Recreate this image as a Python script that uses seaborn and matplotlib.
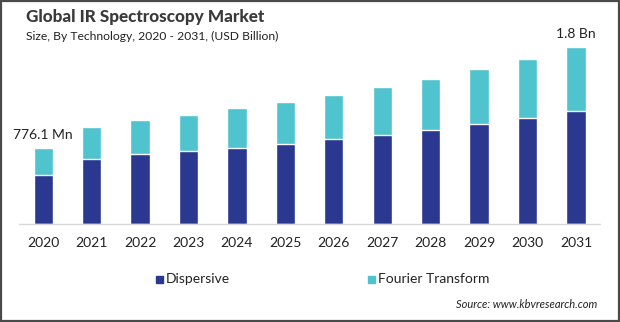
import matplotlib
matplotlib.use("Agg")
import matplotlib.pyplot as plt
from matplotlib.patches import Rectangle
import seaborn as sns
import pandas as pd

years = ["2020", "2021", "2022", "2023", "2024", "2025",
         "2026", "2027", "2028", "2029", "2030", "2031"]
dispersive = [0.500, 0.661, 0.712, 0.742, 0.773, 0.814,
              0.864, 0.905, 0.956, 1.017, 1.078, 1.149]
fourier = [0.2761, 0.325, 0.346, 0.366, 0.407, 0.427,
           0.448, 0.488, 0.518, 0.559, 0.600, 0.651]
end_labels = {"2020": "776.1 Mn", "2031": "1.8 Bn"}

NAVY = "#2B388F"
TEAL = "#4FC3CE"

df = pd.DataFrame({"year": years, "Dispersive": dispersive,
                   "Fourier Transform": fourier})
df["total"] = df["Dispersive"] + df["Fourier Transform"]

sns.set_theme(style="white")
plt.rcParams["font.family"] = ["Lato", "DejaVu Sans"]

fig = plt.figure(figsize=(6.2, 3.22), dpi=100)
ax = fig.add_axes([0.0306, 0.3043, 0.9374, 0.5714])

# stacked bars: total (teal) behind, dispersive (navy) in front
sns.barplot(data=df, x="year", y="total", color=TEAL, width=0.4,
            saturation=1, ax=ax, order=years)
sns.barplot(data=df, x="year", y="Dispersive", color=NAVY, width=0.4,
            saturation=1, ax=ax, order=years)

ax.set_xlim(-0.5, len(years) - 0.5)
ax.set_ylim(0, 1.871)
ax.set_xlabel("")
ax.set_ylabel("")
ax.set_yticks([])
for s in ["top", "right", "left"]:
    ax.spines[s].set_visible(False)
ax.spines["bottom"].set_color("#D9D9D9")
ax.spines["bottom"].set_linewidth(1.0)
ax.tick_params(axis="x", length=0, pad=9, labelsize=10, colors="#222222")

for i, y in enumerate(years):
    if y in end_labels:
        ax.text(i, df["total"][i] + 0.07, end_labels[y], ha="center",
                va="bottom", fontsize=10, color="#222222")

fig.text(0.042, 0.947, "Global IR Spectroscopy Market", fontsize=12.3,
         fontweight="black", color="#3A3A3A", va="center", ha="left")
fig.text(0.042, 0.888, "Size, By Technology, 2020 - 2031, (USD Billion)",
         fontsize=8.7, color="#222222", va="center", ha="left")

# legend
for x0, label, col in [(0.252, "Dispersive", NAVY),
                       (0.593, "Fourier Transform", TEAL)]:
    fig.patches.append(Rectangle((x0, 0.120 + 0.0), 0.0113, 0.0217,
                                 transform=fig.transFigure, color=col))
    fig.text(x0 + 0.016, 0.135, label, fontsize=10, color="#222222",
             va="center", ha="left")

fig.text(0.963, 0.055, "Source: www.kbvresearch.com", fontsize=8,
         style="italic", color="#222222", va="center", ha="right")

fig.patches.append(Rectangle((0.0016, 0.003), 0.9968, 0.994,
                             transform=fig.transFigure, fill=False,
                             edgecolor="#4A4A4A", linewidth=1.6))

fig.savefig("out.png", dpi=100)
